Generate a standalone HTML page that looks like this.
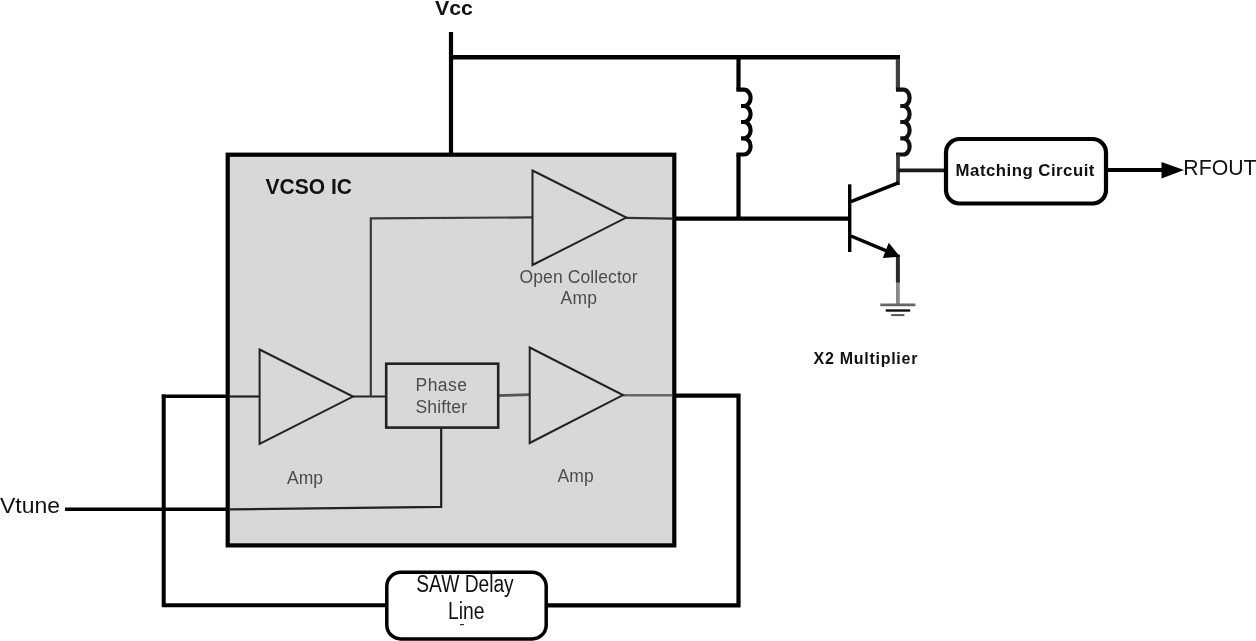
<!DOCTYPE html>
<html>
<head>
<meta charset="utf-8">
<title>VCSO Block Diagram</title>
<style>
html,body{margin:0;padding:0;background:#fff;}
body{width:1256px;height:641px;overflow:hidden;font-family:"Liberation Sans",sans-serif;}
svg{display:block;filter:blur(0.55px);}
text{font-family:"Liberation Sans",sans-serif;}
.b{font-weight:bold;fill:#111;}
.r{fill:#4c4c4c;}
.k{fill:#111;}
</style>
</head>
<body>
<svg width="1256" height="641" viewBox="0 0 1256 641">
<rect x="0" y="0" width="1256" height="641" fill="#ffffff"/>

<!-- IC box -->
<rect x="227.7" y="154.7" width="446.6" height="390.7" fill="#d8d8d8" stroke="#000" stroke-width="4.2"/>

<!-- Vcc rails -->
<g stroke="#000" stroke-width="4.2" fill="none" stroke-linecap="butt" stroke-linejoin="miter">
<path d="M451 32 V154"/>
<path d="M449 57.3 H900" stroke-width="4.5"/>
<!-- left inductor -->
<path d="M738.5 57 V89.7"/>
<path d="M736.4 89.7 H744 A6.6 8.15 0 0 1 744 106 H741 M744 106 A6.6 8.00 0 0 1 744 122 H741 M744 122 A6.6 8.15 0 0 1 744 138.3 H741 M744 138.3 A6.6 8.10 0 0 1 744 154.5 H736.4"/>
<path d="M738.5 154.5 V218.7"/>
<!-- right inductor -->
<path d="M897.9 59 V89.7" stroke="#404040" stroke-width="4.2"/>
<path d="M896.0 89.7 H903.4 A6.2 8.15 0 0 1 903.4 106 H900.3 M903.4 106 A6.2 8.00 0 0 1 903.4 122 H900.3 M903.4 122 A6.2 8.15 0 0 1 903.4 138.3 H900.3 M903.4 138.3 A6.2 8.10 0 0 1 903.4 154.5 H896.0" stroke="#111"/>
<path d="M898 154.5 V185" stroke="#3a3a3a" stroke-width="3.8"/>
<!-- collector out to matching -->
<path d="M898 170.4 H945" stroke-width="3.8" stroke="#1a1a1a"/>
<!-- base drive -->
<path d="M676 218.7 H850"/>
<!-- transistor -->
<path d="M849.7 184.3 V252" stroke-width="3.4"/>
<path d="M851 201.6 L898.8 182.6" stroke-width="3.5"/>
<path d="M851 236 L890 252.4" stroke-width="3.5"/>
<path d="M897.9 254.5 V283" stroke-width="4" stroke="#2a2a2a"/>
<!-- matching out -->
<path d="M1108 170.1 H1166" stroke-width="4"/>
<!-- loop -->
<path d="M228 396.3 H161.7" stroke-width="3.6"/>
<path d="M163.7 394.5 V605.3 H386" stroke-width="4"/>
<path d="M547 605.3 H738.5 V395.6 H675"/>
<!-- vtune outside -->
<path d="M65 509.2 H228" stroke-width="3.6"/>
</g>

<!-- transistor arrow + output arrow -->
<polygon points="888.8,242.8 900,256.8 882.8,258" fill="#000"/>
<polygon points="1161.5,162 1184,170 1161.5,178.5" fill="#000"/>

<!-- ground -->
<g fill="none">
<path d="M897.9 282.5 V304.5" stroke-width="3.8" stroke="#8a8a8a"/>
<path d="M880.3 304.9 H915.4" stroke-width="2.8" stroke="#666"/>
<path d="M885.7 310.5 H910.2" stroke-width="2.4" stroke="#111"/>
<path d="M891.2 315.1 H904.4" stroke-width="2" stroke="#555"/>
</g>

<!-- matching circuit + SAW boxes -->
<rect x="946" y="139" width="160" height="64.5" rx="13.5" ry="13.5" fill="#fff" stroke="#000" stroke-width="4.2"/>
<rect x="386.8" y="572.3" width="159.4" height="66.6" rx="14" ry="14" fill="#fff" stroke="#000" stroke-width="3.5"/>

<!-- thin internal lines -->
<g stroke="#222" stroke-width="2.2" fill="none">
<path d="M353 396.5 H386"/>
<path d="M370.8 396.5 V218.3 L532 217.4" stroke="#383838"/>
<path d="M626 217.8 L672 218.6" stroke="#333"/>
<path d="M230 396.5 H259.5"/>
<path d="M498 395.6 L529 394.6" stroke="#555" stroke-width="2.6"/>
<path d="M623 395.2 H672" stroke="#666" stroke-width="2.6"/>
<path d="M441.2 428 V506.9 L230 509.4"/>
<!-- triangles -->
<path d="M532.5 170.5 L626.3 217.6 L532.5 265 Z" stroke-width="2"/>
<path d="M259.6 349.5 L353 396.6 L259.6 443.8 Z" stroke-width="2"/>
<path d="M529.7 347.5 L623 395.1 L529.7 443 Z" stroke-width="2"/>
<!-- phase shifter -->
<rect x="386.2" y="363.7" width="112" height="63.9" stroke-width="2.6" fill="#d8d8d8"/>
</g>

<!-- texts -->
<text class="b" x="435" y="15.3" font-size="21" textLength="38" lengthAdjust="spacingAndGlyphs">Vcc</text>
<text class="b" x="265.5" y="193.8" font-size="21.8" textLength="86.5" lengthAdjust="spacingAndGlyphs">VCSO IC</text>
<text class="b" x="955.6" y="175.8" font-size="16.8" textLength="138.8" lengthAdjust="spacing">Matching Circuit</text>
<text class="b" x="813.6" y="364.3" font-size="16" textLength="103.8" lengthAdjust="spacing">X2 Multiplier</text>
<text class="k" x="1183.3" y="174.5" font-size="21.8" textLength="73.2" lengthAdjust="spacingAndGlyphs">RFOUT</text>
<text class="k" x="0" y="513" font-size="21.6" textLength="60" lengthAdjust="spacingAndGlyphs">Vtune</text>
<text class="k" x="416.3" y="591.8" font-size="23" textLength="97.4" lengthAdjust="spacingAndGlyphs">SAW Delay</text>
<text class="k" x="448" y="618.6" font-size="23" textLength="36.5" lengthAdjust="spacingAndGlyphs">Line</text>
<rect x="460" y="624" width="4" height="1.2" fill="#333"/>
<text class="r" x="519.5" y="282.5" font-size="17.5" textLength="118" lengthAdjust="spacing">Open Collector</text>
<text class="r" x="560.5" y="304" font-size="17.5" textLength="36.5" lengthAdjust="spacing">Amp</text>
<text class="r" x="415.5" y="390.6" font-size="17.5" textLength="51.5" lengthAdjust="spacing">Phase</text>
<text class="r" x="415.5" y="412.5" font-size="17.5" textLength="51.5" lengthAdjust="spacing">Shifter</text>
<text class="r" x="287" y="483.6" font-size="17.5" textLength="36" lengthAdjust="spacing">Amp</text>
<text class="r" x="557.5" y="482.2" font-size="17.5" textLength="36.2" lengthAdjust="spacing">Amp</text>
</svg>
</body>
</html>
